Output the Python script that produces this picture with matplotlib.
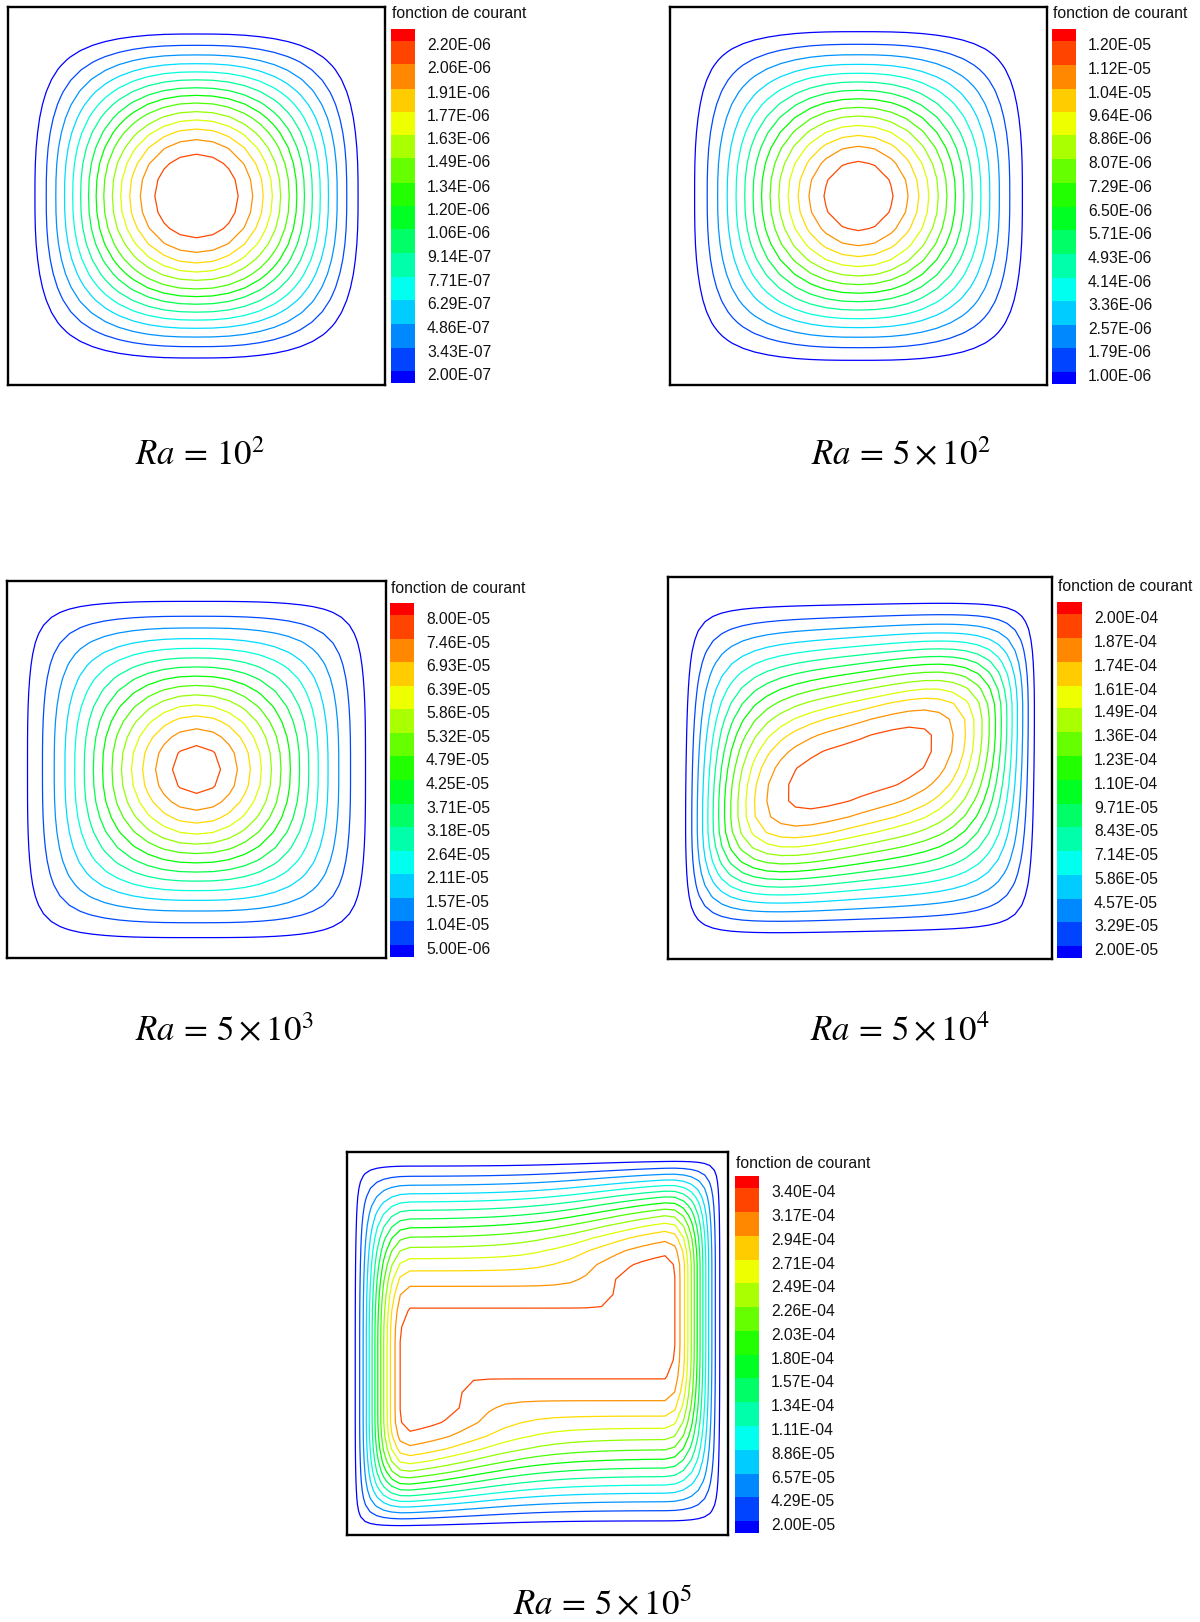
import numpy as np
import matplotlib
matplotlib.use("Agg")
import matplotlib.pyplot as plt
from matplotlib.colors import hsv_to_rgb
from matplotlib.transforms import ScaledTranslation

plt.rcParams['font.family'] = ['Liberation Sans', 'DejaVu Sans']
plt.rcParams['mathtext.fontset'] = 'stix'

# ---------------- data (legend levels) ----------------
levels_ra1e2 = [2.00e-07, 3.43e-07, 4.86e-07, 6.29e-07, 7.71e-07, 9.14e-07, 1.06e-06, 1.20e-06,
                1.34e-06, 1.49e-06, 1.63e-06, 1.77e-06, 1.91e-06, 2.06e-06, 2.20e-06]
levels_ra5e2 = [1.00e-06, 1.79e-06, 2.57e-06, 3.36e-06, 4.14e-06, 4.93e-06, 5.71e-06, 6.50e-06,
                7.29e-06, 8.07e-06, 8.86e-06, 9.64e-06, 1.04e-05, 1.12e-05, 1.20e-05]
levels_ra5e3 = [5.00e-06, 1.04e-05, 1.57e-05, 2.11e-05, 2.64e-05, 3.18e-05, 3.71e-05, 4.25e-05,
                4.79e-05, 5.32e-05, 5.86e-05, 6.39e-05, 6.93e-05, 7.46e-05, 8.00e-05]
levels_ra5e4 = [2.00e-05, 3.29e-05, 4.57e-05, 5.86e-05, 7.14e-05, 8.43e-05, 9.71e-05, 1.10e-04,
                1.23e-04, 1.36e-04, 1.49e-04, 1.61e-04, 1.74e-04, 1.87e-04, 2.00e-04]
levels_ra5e5 = [2.00e-05, 4.29e-05, 6.57e-05, 8.86e-05, 1.11e-04, 1.34e-04, 1.57e-04, 1.80e-04,
                2.03e-04, 2.26e-04, 2.49e-04, 2.71e-04, 2.94e-04, 3.17e-04, 3.40e-04]

# estimated peak stream-function value in each cavity
psi_max = [2.17e-06, 1.18e-05, 7.80e-05, 1.95e-04, 3.30e-04]

ra_labels = [r"$Ra\,=\,10^{2}$", r"$Ra\,=\,5\times10^{2}$", r"$Ra\,=\,5\times10^{3}$",
             r"$Ra\,=\,5\times10^{4}$", r"$Ra\,=\,5\times10^{5}$"]
legend_title = "fonction de courant"

# flow-pattern shape parameters of the modelled stream function
shapes = [
    dict(kind='radial', a=0.100, b=1.031, nb=1.57, nm=2.83),
    dict(kind='radial', a=0.049, b=1.048, nb=1.83, nm=3.12),
    dict(kind='radial', a=0.000, b=1.054, nb=2.64, nm=2.90),
    dict(kind='cell', uprof='pq', ua=0.0, ub=1.0, up=4.0, uq=2.0,
         vprof='smooth', va=0.03, vb=1.06, vp=0, vq=0, tilt=0.37, lobe=0.0, k=0.6),
    dict(kind='cell', uprof='pq', ua=0.68, ub=1.0, up=1.91, uq=2.0,
         vprof='pq', va=0.0, vb=1.0, vp=2.17, vq=1.5, tilt=0.0, lobe=0.4, k=0.5),
]

# ---------------- layout (pixels) ----------------
FIG_W, FIG_H = 1200, 1622
boxes = [(8, 7, 385, 385), (670, 7, 1047, 385), (7, 581, 386, 958),
         (668, 577, 1052, 959), (347, 1152, 728, 1535)]
cbars = [(391, 29, 415, 383), (1052, 29, 1076, 384), (390, 603, 414, 957),
         (1057, 602, 1082, 958), (735, 1176, 759, 1533)]
cb_titles = [(392, 14), (1053, 14), (391, 588), (1058, 587), (736, 1163)]
ra_pos = [(135, 465), (811, 465), (135, 1041), (810, 1041), (513, 1615)]


def rect(x0, y0, x1, y1):
    return [x0 / FIG_W, 1 - y1 / FIG_H, (x1 - x0) / FIG_W, (y1 - y0) / FIG_H]


def smoothstep(t):
    t = np.clip(t, 0, 1)
    return t * t * (3 - 2 * t)


def profile(s, kind, p, q):
    s = np.clip(s, 0, 1)
    if kind == 'smooth':
        return np.clip(1 - s * s * (3 - 2 * s), 1e-12, 1)
    return np.clip(1 - s ** p, 1e-12, 1) ** q


def lobe_shift(u, v, amp):
    if amp == 0:
        return 0.0
    ramp = smoothstep((v - 0.15) / 0.45)
    c = 0.505 + (0.30 - 0.505) * ramp
    w = 0.03 + (0.23 - 0.03) * ramp
    return amp / (1 + np.exp(-(u - c) / w))


def field(X, Y, P):
    u = 2 * X - 1
    v = 2 * Y - 1
    if P['kind'] == 'radial':
        r = np.sqrt(u ** 2 + v ** 2)
        n = 2 + P['nb'] * r ** P['nm']
        rho = (np.abs(u) ** n + np.abs(v) ** n) ** (1 / n)
        return profile((rho - P['a']) / (P['b'] - P['a']), 'smooth', 0, 0)
    su = (np.abs(u) - P['ua']) / (P['ub'] - P['ua'])
    Fu = profile(su, P['uprof'], P['up'], P['uq'])
    vt = P['va'] + P['tilt'] * u * (1 - v ** 2) + lobe_shift(u, v, P['lobe'])
    vbt = -(P['va'] + P['tilt'] * (-u) * (1 - v ** 2) + lobe_shift(-u, -v, P['lobe']))
    st = (v - vt) / (P['vb'] - vt)
    sb = (vbt - v) / (P['vb'] + vbt)
    Fv = profile(np.maximum(st, sb), P['vprof'], P['vp'], P['vq'])
    k = P['k']
    return (Fu ** (-k) + Fv ** (-k) - 1) ** (-1.0 / k)


# non-uniform mesh, refined near the walls
n, beta = 41, 1.6
xi = np.linspace(0, 1, n)
g = 0.5 * (1 + np.tanh(beta * (2 * xi - 1)) / np.tanh(beta))
Xg, Yg = np.meshgrid(g, g)

band_colors = [hsv_to_rgb([240 * (1 - i / 15) / 360, 1, 1]) for i in range(16)]
line_colors = [hsv_to_rgb([240 * (1 - k / 14) / 360, 1, 1]) for k in range(15)]

fig = plt.figure(figsize=(FIG_W / 100, FIG_H / 100), dpi=100)
all_levels = [levels_ra1e2, levels_ra5e2, levels_ra5e3, levels_ra5e4, levels_ra5e5]

for i in range(5):
    lv = np.array(all_levels[i])
    ax = fig.add_axes(rect(*boxes[i]))
    Z = psi_max[i] * field(Xg, Yg, shapes[i])
    ax.contour(Xg, Yg, Z, levels=lv, colors=line_colors, linewidths=0.9)
    ax.set_xlim(0, 1)
    ax.set_ylim(0, 1)
    ax.set_xticks([])
    ax.set_yticks([])
    for sp in ax.spines.values():
        sp.set_linewidth(1.7)
        sp.set_color('black')

    cax = fig.add_axes(rect(*cbars[i]))
    d = (lv[-1] - lv[0]) / 14
    edges = np.concatenate([[lv[0] - d / 2], lv, [lv[-1] + d / 2]])
    for b in range(16):
        cax.bar(0.5, edges[b + 1] - edges[b], bottom=edges[b], width=1.0,
                color=band_colors[b], linewidth=0)
    cax.set_xlim(0, 1)
    cax.set_ylim(edges[0], edges[-1])
    cax.set_xticks([])
    cax.yaxis.tick_right()
    cax.set_yticks(lv)
    cax.set_yticklabels([f"{val:.2E}" for val in lv])
    cax.tick_params(axis='y', length=0, pad=8.6, labelsize=11.3, colors='#111111')
    for sp in cax.spines.values():
        sp.set_visible(False)
    off = ScaledTranslation(0, -3 / 100, fig.dpi_scale_trans)
    for lab in cax.get_yticklabels():
        lab.set_transform(lab.get_transform() + off)

    tx, ty = cb_titles[i]
    fig.text(tx / FIG_W, 1 - ty / FIG_H, legend_title, ha='left', va='center',
             fontsize=11.3, color='#111111')
    rx, ry = ra_pos[i]
    fig.text(rx / FIG_W, 1 - ry / FIG_H, ra_labels[i], ha='left', va='baseline',
             fontsize=25)

fig.savefig("out.png", dpi=100)
